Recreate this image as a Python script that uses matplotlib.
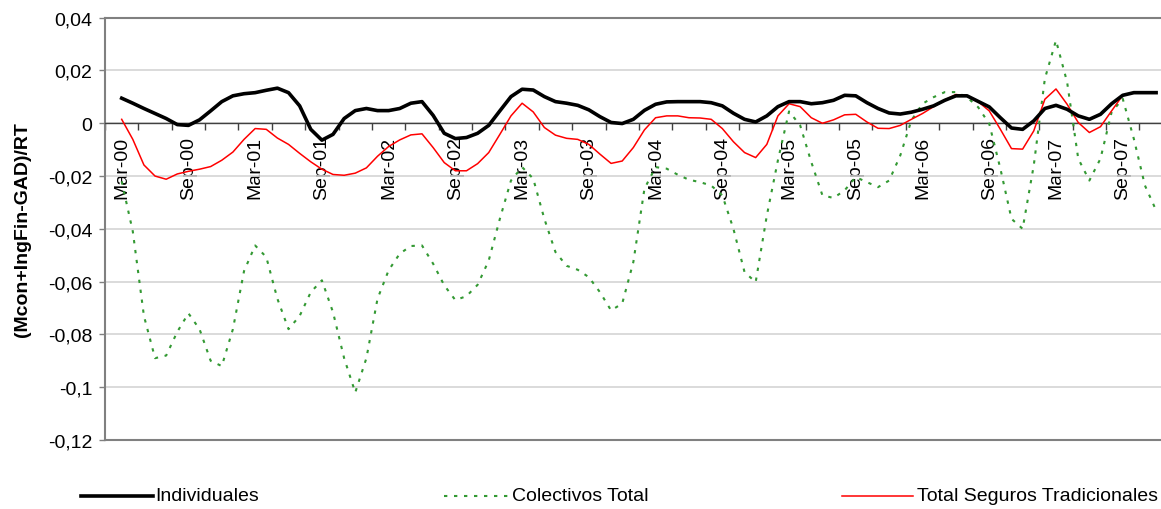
import numpy as np
import matplotlib
matplotlib.use("Agg")
import matplotlib.pyplot as plt
from matplotlib.lines import Line2D

plt.rcParams['font.family'] = ['Liberation Sans', 'DejaVu Sans']

# Monthly observations, Mar-00 .. Dec-07
months = ["Mar-00", "Sep-00", "Mar-01", "Sep-01", "Mar-02", "Sep-02", "Mar-03", "Sep-03",
          "Mar-04", "Sep-04", "Mar-05", "Sep-05", "Mar-06", "Sep-06", "Mar-07", "Sep-07"]

individuales = [
    0.0095, 0.0076, 0.0056, 0.0037, 0.0018, -0.0005, -0.0008, 0.0013, 0.0047, 0.0082,
    0.0104, 0.0112, 0.0116, 0.0125, 0.0133, 0.0116, 0.0066, -0.0023, -0.0064, -0.0042,
    0.0018, 0.0048, 0.0056, 0.0048, 0.0048, 0.0056, 0.0076, 0.0082, 0.0030, -0.0038,
    -0.0058, -0.0054, -0.0038, -0.0008, 0.0047, 0.0101, 0.0129, 0.0126, 0.0101, 0.0082,
    0.0076, 0.0068, 0.0051, 0.0025, 0.0003, -0.0001, 0.0015, 0.0049, 0.0072, 0.0081,
    0.0082, 0.0082, 0.0082, 0.0078, 0.0066, 0.0038, 0.0015, 0.0005, 0.0028, 0.0063,
    0.0082, 0.0082, 0.0074, 0.0078, 0.0087, 0.0106, 0.0104, 0.0078, 0.0056, 0.0039,
    0.0035, 0.0042, 0.0053, 0.0066, 0.0087, 0.0104, 0.0104, 0.0083, 0.0062, 0.0021,
    -0.0018, -0.0023, 0.0009, 0.0056, 0.0068, 0.0053, 0.0028, 0.0015, 0.0034, 0.0074,
    0.0106, 0.0116, 0.0116, 0.0116]

colectivos = [
    -0.0220, -0.0410, -0.0730, -0.0890, -0.0880, -0.0790, -0.0720, -0.0780, -0.0900, -0.0920,
    -0.0780, -0.0560, -0.0463, -0.0507, -0.0665, -0.0780, -0.0730, -0.0640, -0.0595, -0.0716,
    -0.0890, -0.1020, -0.0890, -0.0665, -0.0557, -0.0494, -0.0465, -0.0463, -0.0532, -0.0614,
    -0.0670, -0.0655, -0.0612, -0.0520, -0.0362, -0.0217, -0.0166, -0.0210, -0.0362, -0.0488,
    -0.0540, -0.0555, -0.0583, -0.0640, -0.0709, -0.0683, -0.0526, -0.0248, -0.0166, -0.0172,
    -0.0195, -0.0214, -0.0223, -0.0236, -0.0273, -0.0400, -0.0564, -0.0602, -0.0350, -0.0140,
    0.0045, -0.0008, -0.0147, -0.0273, -0.0283, -0.0254, -0.0204, -0.0223, -0.0242, -0.0217,
    -0.0122, 0.0011, 0.0074, 0.0099, 0.0118, 0.0118, 0.0099, 0.0061, -0.0002, -0.0172,
    -0.0362, -0.0400, -0.0160, 0.0169, 0.0314, 0.0156, -0.0134, -0.0217, -0.0134, 0.0042,
    0.0093, -0.0059, -0.0236, -0.0330]

tradicionales = [
    0.0015, -0.0061, -0.0158, -0.0200, -0.0212, -0.0192, -0.0182, -0.0174, -0.0164, -0.0140,
    -0.0109, -0.0061, -0.0020, -0.0023, -0.0056, -0.0080, -0.0114, -0.0146, -0.0174, -0.0194,
    -0.0197, -0.0189, -0.0169, -0.0125, -0.0088, -0.0063, -0.0044, -0.0040, -0.0092, -0.0149,
    -0.0180, -0.0180, -0.0153, -0.0111, -0.0042, 0.0028, 0.0076, 0.0043, -0.0016, -0.0045,
    -0.0057, -0.0061, -0.0080, -0.0117, -0.0152, -0.0143, -0.0092, -0.0025, 0.0021, 0.0028,
    0.0028, 0.0021, 0.0020, 0.0015, -0.0020, -0.0070, -0.0111, -0.0130, -0.0080, 0.0028,
    0.0074, 0.0063, 0.0021, 0.0000, 0.0013, 0.0032, 0.0034, 0.0005, -0.0019, -0.0020,
    -0.0008, 0.0015, 0.0037, 0.0063, 0.0088, 0.0109, 0.0104, 0.0082, 0.0047, -0.0023,
    -0.0096, -0.0098, -0.0029, 0.0091, 0.0130, 0.0072, 0.0003, -0.0035, -0.0013, 0.0047,
    0.0106, None, None, None]

yticks = [-0.12, -0.10, -0.08, -0.06, -0.04, -0.02, 0.0, 0.02, 0.04]
ytick_labels = ["-0,12", "-0,1", "-0,08", "-0,06", "-0,04", "-0,02", "0", "0,02", "0,04"]

legend_labels = ["Individuales", "Colectivos Total", "Total Seguros Tradicionales"]

W, H = 1161, 510
fig = plt.figure(figsize=(W / 100, H / 100), dpi=100)
left_px, right_px, top_px, bot_px = 105, 1161, 18.7, 441
ax = fig.add_axes([left_px / W, (H - bot_px) / H, (right_px - left_px) / W, (bot_px - top_px) / H])

# axis spines first (set_position resets tick properties)
for s in ['top', 'left']:
    ax.spines[s].set_color('#808080')
    ax.spines[s].set_linewidth(1.5)
ax.spines['right'].set_visible(False)
ax.spines['bottom'].set_position(('data', 0))
ax.spines['bottom'].set_color('#404040')
ax.spines['bottom'].set_linewidth(1.0)
ax.plot([0, 1], [0, 0], transform=ax.transAxes, color='#808080', lw=1.5, clip_on=False, zorder=2)

x = np.arange(len(individuales))
trad = np.array([np.nan if v is None else v for v in tradicionales], dtype=float)

green = '#339933'
ax.plot(x, colectivos, color=green, lw=1.5, linestyle=(0, (1.6, 3.2)), zorder=3)
ax.plot(x, trad, color='#ff0000', lw=1.1, zorder=4)
ax.plot(x, individuales, color='black', lw=2.6, zorder=5, solid_joinstyle='round')

ax.set_xlim(-1.5, (right_px - 121) / 11.13)
ax.set_ylim(-0.12, 0.04)

ax.set_yticks(yticks)
ax.set_yticklabels(ytick_labels)
ax.tick_params(axis='y', direction='out', length=4, width=1, color='#808080', pad=5, labelsize=14)
ax.yaxis.grid(True, color='#d4d4d4', lw=1.2)
ax.set_axisbelow(True)

ax.set_xticks(np.arange(0, len(individuales), 6))
ax.set_xticklabels(months)
ax.set_xticks(np.arange(-1.5, len(individuales), 3), minor=True)
ax.tick_params(axis='x', which='major', length=0, pad=9, labelsize=14, labelrotation=90)
ax.tick_params(axis='x', which='minor', direction='out', length=5, width=1, color='#404040')

ax.set_ylabel("(Mcon+IngFin-GAD)/RT", fontsize=14, fontweight='bold', labelpad=12)

# legend
ly = (H - 497) / H
entries = [
    (81, 153, 155, dict(color='black', lw=2.6)),
    (444, 508, 512, dict(color=green, lw=1.5, linestyle=(0, (1.6, 3.2)))),
    (842, 913, 917, dict(color='#ff0000', lw=1.1)),
]
for (x0, x1, xt, st), lab in zip(entries, legend_labels):
    fig.add_artist(Line2D([x0 / W, x1 / W], [ly, ly], transform=fig.transFigure, **st))
    fig.text(xt / W, ly, lab, fontsize=14, va='center', ha='left')

fig.savefig("out.png", dpi=100)
